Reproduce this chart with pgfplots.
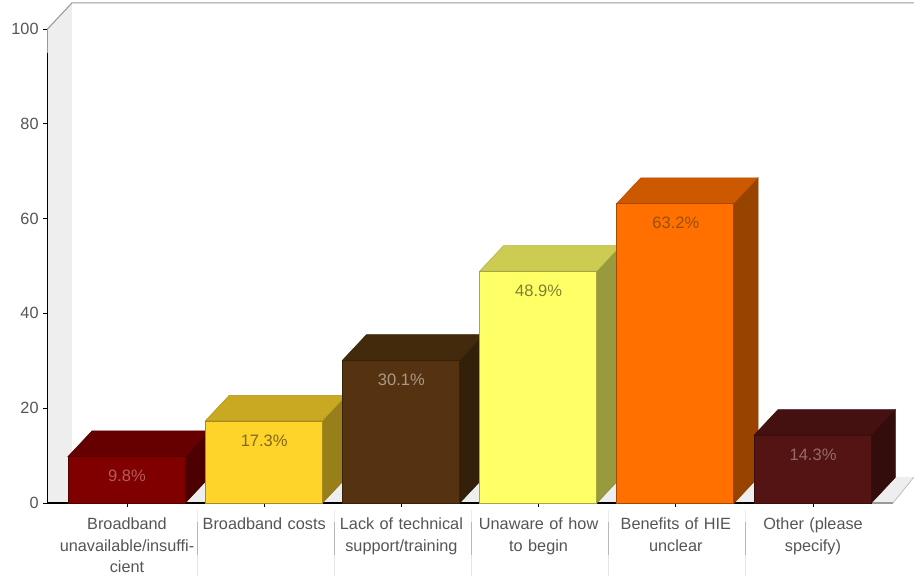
\documentclass[border=0pt]{standalone}
\usepackage{fontspec}
\setmainfont{Liberation Sans}
\usepackage{pgfplots}
\pgfplotsset{compat=1.18}
\definecolor{wall}{HTML}{EEEEEE}
\definecolor{edge}{HTML}{999999}
\definecolor{axtxt}{HTML}{555555}
\definecolor{fa}{HTML}{800000}\definecolor{la}{HTML}{B35C5C}
\definecolor{fb}{HTML}{FFD42A}\definecolor{lb}{HTML}{80691A}
\definecolor{fc}{HTML}{563310}\definecolor{lc}{HTML}{AA9988}
\definecolor{fd}{HTML}{FFFF66}\definecolor{ld}{HTML}{808033}
\definecolor{fe}{HTML}{FF7000}\definecolor{le}{HTML}{995000}
\definecolor{ff}{HTML}{551414}\definecolor{lf}{HTML}{946A6A}
\pgfplotsset{
  front/.style n args={3}{ybar, bar width=87.75pt, bar shift=-0.4pt, fill=#1, draw=#1!65!black, line width=0.6pt,
    nodes near coords={#2\%},
    nodes near coords style={anchor=center, yshift=-14.5pt, font=\fontsize{12.4}{14}\selectfont, text=#3}},
  sep/.style={black!#1, line width=0.7pt},
}
\begin{document}
\begin{tikzpicture}
\useasboundingbox (-35.625pt,-60.75pt) rectangle (649.875pt,377.25pt);
\begin{axis}[
  scale only axis, width=634.125pt, height=355.5pt,
  xmin=-0.5794, xmax=5.583, ymin=0, ymax=100,
  clip=false,
  axis line style={draw=none},
  xtick={0,1,2,3,4,5},
  xticklabels={{Broadband\\unavailable/insuffi-\\cient},{Broadband costs},{Lack of technical\\support/training},{Unaware of how\\to begin},{Benefits of HIE\\unclear},{Other (please\\specify)}},
  ytick={0,20,40,60,80,100},
  tick align=outside, major tick length=3pt,
  tick style={black, line width=0.6pt},
  xtick pos=bottom, ytick pos=left,
  /pgf/number format/assume math mode=true,
  yticklabel style={font=\fontsize{12.2}{14}\selectfont, text=axtxt, inner sep=1.5pt, xshift=-2pt},
  xticklabel style={font=\fontsize{12.2}{16}\selectfont, text=axtxt, align=center, text width=103pt, anchor=north, yshift=-7pt, inner sep=1pt},
]
% walls and floor
\addplot[fill=wall, draw=none] coordinates {(-0.5794,0) (5.583,0) (5.736,5.485) (-0.4009,5.485)} -- cycle;
\addplot[fill=wall, draw=none] coordinates {(-0.5794,0) (-0.5794,100) (-0.4009,105.5) (-0.4009,5.485)} -- cycle;
\addplot[edge, line width=0.8pt] coordinates {(-0.5794,100) (-0.4009,105.5) (5.736,105.5)};
\addplot[edge, line width=0.8pt] coordinates {(-0.5794,100) (-0.5794,95)};
\addplot[black, line width=0.8pt] coordinates {(-0.5794,95) (-0.5794,0) (5.4,0)};
\addplot[edge, line width=0.8pt] coordinates {(5.4,0) (5.583,0)};
\addplot[wall!80!black, line width=0.6pt] coordinates {(5.583,0) (5.736,5.485)};
% separators (fading at both ends)
\addplot[sep=8] coordinates {(0.51,-1.5) (0.51,-4)};
\addplot[sep=28] coordinates {(0.51,-4) (0.51,-11)};
\addplot[sep=10] coordinates {(0.51,-11) (0.51,-15.5)};
\addplot[sep=8] coordinates {(1.51,-1.5) (1.51,-4)};
\addplot[sep=28] coordinates {(1.51,-4) (1.51,-11)};
\addplot[sep=10] coordinates {(1.51,-11) (1.51,-15.5)};
\addplot[sep=8] coordinates {(2.51,-1.5) (2.51,-4)};
\addplot[sep=28] coordinates {(2.51,-4) (2.51,-11)};
\addplot[sep=10] coordinates {(2.51,-11) (2.51,-15.5)};
\addplot[sep=8] coordinates {(3.51,-1.5) (3.51,-4)};
\addplot[sep=28] coordinates {(3.51,-4) (3.51,-11)};
\addplot[sep=10] coordinates {(3.51,-11) (3.51,-15.5)};
\addplot[sep=8] coordinates {(4.51,-1.5) (4.51,-4)};
\addplot[sep=28] coordinates {(4.51,-4) (4.51,-11)};
\addplot[sep=10] coordinates {(4.51,-11) (4.51,-15.5)};
% bar 1
\addplot[fill={rgb,255:red,77;green,0;blue,0}, draw={rgb,255:red,70;green,0;blue,0}] coordinates {(0.425,0) (0.6,5.4) (0.6,15.2) (0.425,9.8)} -- cycle;
\addplot[fill={rgb,255:red,102;green,0;blue,0}, draw={rgb,255:red,90;green,0;blue,0}] coordinates {(-0.43,9.8) (0.425,9.8) (0.6,15.2) (-0.255,15.2)} -- cycle;
\addplot[front={fa}{9.8}{la}] coordinates {(0,9.8)};
% bar 2
\addplot[fill={rgb,255:red,153;green,127;blue,25}, draw={rgb,255:red,135;green,112;blue,22}] coordinates {(1.425,0) (1.6,5.4) (1.6,22.7) (1.425,17.3)} -- cycle;
\addplot[fill={rgb,255:red,201;green,169;blue,34}, draw={rgb,255:red,170;green,145;blue,30}] coordinates {(0.57,17.3) (1.425,17.3) (1.6,22.7) (0.745,22.7)} -- cycle;
\addplot[front={fb}{17.3}{lb}] coordinates {(1,17.3)};
% bar 3
\addplot[fill={rgb,255:red,51;green,32;blue,10}, draw={rgb,255:red,45;green,28;blue,8}] coordinates {(2.425,0) (2.6,5.4) (2.6,35.5) (2.425,30.1)} -- cycle;
\addplot[fill={rgb,255:red,68;green,42;blue,12}, draw={rgb,255:red,58;green,36;blue,10}] coordinates {(1.57,30.1) (2.425,30.1) (2.6,35.5) (1.745,35.5)} -- cycle;
\addplot[front={fc}{30.1}{lc}] coordinates {(2,30.1)};
% bar 4
\addplot[fill={rgb,255:red,153;green,153;blue,61}, draw={rgb,255:red,135;green,135;blue,54}] coordinates {(3.425,0) (3.6,5.4) (3.6,54.3) (3.425,48.9)} -- cycle;
\addplot[fill={rgb,255:red,204;green,204;blue,82}, draw={rgb,255:red,175;green,175;blue,70}] coordinates {(2.57,48.9) (3.425,48.9) (3.6,54.3) (2.745,54.3)} -- cycle;
\addplot[front={fd}{48.9}{ld}] coordinates {(3,48.9)};
% bar 5
\addplot[fill={rgb,255:red,153;green,67;blue,0}, draw={rgb,255:red,135;green,60;blue,0}] coordinates {(4.425,0) (4.6,5.4) (4.6,68.6) (4.425,63.2)} -- cycle;
\addplot[fill={rgb,255:red,204;green,89;blue,0}, draw={rgb,255:red,175;green,76;blue,0}] coordinates {(3.57,63.2) (4.425,63.2) (4.6,68.6) (3.745,68.6)} -- cycle;
\addplot[front={fe}{63.2}{le}] coordinates {(4,63.2)};
% bar 6
\addplot[fill={rgb,255:red,51;green,12;blue,12}, draw={rgb,255:red,45;green,10;blue,10}] coordinates {(5.425,0) (5.6,5.4) (5.6,19.7) (5.425,14.3)} -- cycle;
\addplot[fill={rgb,255:red,68;green,16;blue,16}, draw={rgb,255:red,58;green,14;blue,14}] coordinates {(4.57,14.3) (5.425,14.3) (5.6,19.7) (4.745,19.7)} -- cycle;
\addplot[front={ff}{14.3}{lf}] coordinates {(5,14.3)};
\end{axis}
\end{tikzpicture}
\end{document}
